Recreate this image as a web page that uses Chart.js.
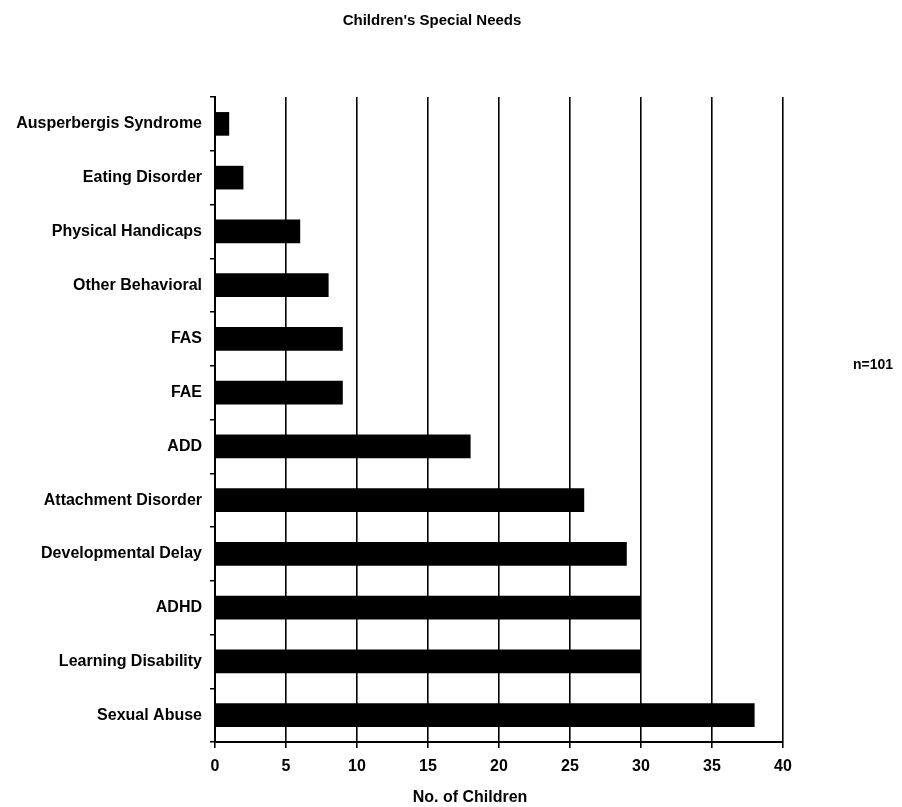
<!DOCTYPE html>
<html>
<head>
<meta charset="utf-8">
<title>Children's Special Needs</title>
<script src="https://cdn.jsdelivr.net/npm/chart.js@4"></script>
<style>
  html, body { margin: 0; padding: 0; background: #fff; }
  #wrap { width: 902px; height: 807px; position: relative; }
</style>
</head>
<body>
<div id="wrap">
  <canvas id="chart" width="902" height="807"></canvas>
</div>
<script>
// data
const categories = [
  'Ausperbergis Syndrome',
  'Eating Disorder',
  'Physical Handicaps',
  'Other Behavioral',
  'FAS',
  'FAE',
  'ADD',
  'Attachment Disorder',
  'Developmental Delay',
  'ADHD',
  'Learning Disability',
  'Sexual Abuse'
];
const childCounts = [1, 2, 6, 8, 9, 9, 18, 26, 29, 30, 30, 38];
const xTicks = [0, 5, 10, 15, 20, 25, 30, 35, 40];

const chartTitle = "Children's Special Needs";
const axisTitle = 'No. of Children';
const sampleNote = 'n=101';

const FONT = '"Liberation Sans", Arial, sans-serif';

// loose text (title, axis title, n note) drawn at the scan's positions
const textPlugin = {
    id: 'scanText',
    afterDraw(chart) {
        const ctx = chart.ctx;
        ctx.save();
        ctx.fillStyle = '#000';
        ctx.textBaseline = 'middle';

        ctx.font = 'bold 15px ' + FONT;
        ctx.textAlign = 'center';
        ctx.fillText(chartTitle, 432, 21);

        ctx.font = 'bold 16px ' + FONT;
        ctx.fillText(axisTitle, 470, 798);

        ctx.font = 'bold 14px ' + FONT;
        ctx.textAlign = 'left';
        ctx.fillText(sampleNote, 853, 365);
        ctx.restore();
    }
};

new Chart(document.getElementById('chart'), {
    type: 'bar',
    data: {
        labels: categories,
        datasets: [{
            label: axisTitle,
            data: childCounts,
            backgroundColor: '#000',
            borderWidth: 0,
            categoryPercentage: 1,
            barPercentage: 0.44
        }]
    },
    options: {
        indexAxis: 'y',
        responsive: false,
        animation: false,
        layout: {
            padding: { top: 97, right: 119, bottom: 0, left: 0 }
        },
        plugins: {
            legend: { display: false },
            title: { display: false },
            tooltip: { enabled: false }
        },
        scales: {
            x: {
                min: 0,
                max: 40,
                afterBuildTicks: (scale) => {
                    scale.ticks = xTicks.map(v => ({ value: v }));
                },
                afterFit: (scale) => { scale.height = 65; },
                grid: {
                    color: '#000',
                    lineWidth: 1.6,
                    tickLength: 6,
                    drawTicks: true
                },
                border: { display: true, color: '#000', width: 2 },
                ticks: {
                    color: '#000',
                    padding: 9,
                    font: { family: FONT, size: 16, weight: 'bold' }
                }
            },
            y: {
                afterFit: (scale) => { scale.width = 215; },
                grid: {
                    drawOnChartArea: false,
                    color: '#000',
                    lineWidth: 1.5,
                    tickLength: 5
                },
                border: { display: true, color: '#000', width: 2 },
                ticks: {
                    color: '#000',
                    padding: 8,
                    font: { family: FONT, size: 16, weight: 'bold' }
                }
            }
        }
    },
    plugins: [textPlugin]
});
</script>
</body>
</html>
